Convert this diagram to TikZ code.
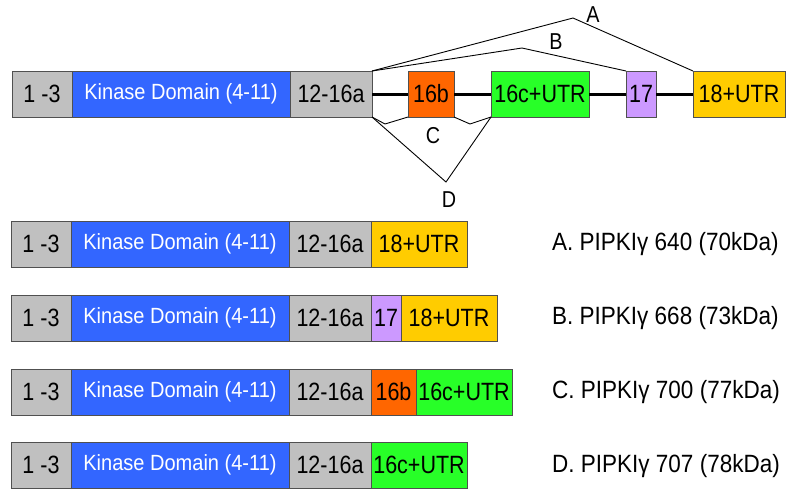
\documentclass[tikz,border=0pt]{standalone}
\usepackage{fontspec}
\setmainfont{Liberation Sans}
\newfontfamily\condfont[FakeStretch=0.86]{Liberation Sans}
\newfontfamily\kinfont[FakeStretch=0.91]{Liberation Sans}
\newfontfamily\isofont[FakeStretch=0.9]{Liberation Sans}
\definecolor{segGray}{RGB}{192,192,192}
\definecolor{segBlue}{RGB}{51,102,255}
\definecolor{segOrange}{RGB}{255,102,0}
\definecolor{segGreen}{RGB}{40,255,40}
\definecolor{segPurple}{RGB}{204,153,255}
\definecolor{segYellow}{RGB}{255,204,0}
\definecolor{segBorder}{RGB}{80,80,80}
\tikzset{
  seg/.style={draw=segBorder, line width=0.8pt, inner sep=0pt, outer sep=0pt,
    minimum height=46pt, anchor=north west, font=\condfont\fontsize{25}{27}\selectfont},
  gseg/.style={seg, fill=segGray},
  kseg/.style={seg, fill=segBlue, text=white, minimum width=218pt,
    font=\kinfont\fontsize{22}{24}\selectfont},
  intron/.style={line width=3pt, black},
  splice/.style={line width=0.9pt, black},
  lbl/.style={font=\condfont\fontsize{23}{25}\selectfont, inner sep=0pt},
  iso/.style={font=\isofont\fontsize{25}{27}\selectfont, inner sep=0pt, anchor=west}
}
\begin{document}
\begin{tikzpicture}[x=1pt,y=-1pt]
\useasboundingbox (0,0) rectangle (787,488);
% top gene structure
\node[gseg, minimum width=60pt] (t1) at (12,71) {1 -3};
\node[kseg] (t2) at (t1.north east) {Kinase Domain (4-11)};
\node[gseg, minimum width=82pt] (t3) at (t2.north east) {12-16a};
\node[seg, fill=segOrange, minimum width=46pt] (t4) at (408,71) {16b};
\node[seg, fill=segGreen, minimum width=98pt] (t5) at (491,71) {16c+UTR};
\node[seg, fill=segPurple, minimum width=30pt] (t6) at (626,71) {17};
\node[seg, fill=segYellow, minimum width=92pt] (t7) at (693,71) {18+UTR};
\draw[intron] (t3.east) -- (t4.west);
\draw[intron] (t4.east) -- (t5.west);
\draw[intron] (t5.east) -- (t6.west);
\draw[intron] (t6.east) -- (t7.west);
% splice paths
\coordinate (pA) at (573,18);
\coordinate (pB) at (522,48);
\coordinate (pC1) at (385,124);
\coordinate (pC2) at (470,124);
\coordinate (pD) at (446,182);
\draw[splice] (t3.north east) -- (pA) -- (t7.north west);
\draw[splice] (t3.north east) -- (pB) -- (t6.north west);
\draw[splice] (t3.south east) -- (pC1) -- (t4.south west);
\draw[splice] (t4.south east) -- (pC2) -- (t5.south west);
\draw[splice] (t3.south east) -- (pD) -- (t5.south west);
\node[lbl] (lA) at (593,15) {A};
\node[lbl] (lB) at (556,42) {B};
\node[lbl] (lC) at (433,136) {C};
\node[lbl] (lD) at (449,200) {D};
% isoform A
\node[gseg, minimum width=60pt] (a1) at (11,221) {1 -3};
\node[kseg] (a2) at (a1.north east) {Kinase Domain (4-11)};
\node[gseg, minimum width=82pt] (a3) at (a2.north east) {12-16a};
\node[seg, fill=segYellow, minimum width=96pt] (a4) at (a3.north east) {18+UTR};
\node[iso] (ia) at (552,244) {A. PIPKIγ 640 (70kDa)};
% isoform B
\node[gseg, minimum width=60pt] (b1) at (11,295) {1 -3};
\node[kseg] (b2) at (b1.north east) {Kinase Domain (4-11)};
\node[gseg, minimum width=82pt] (b3) at (b2.north east) {12-16a};
\node[seg, fill=segPurple, minimum width=30pt] (b4) at (b3.north east) {17};
\node[seg, fill=segYellow, minimum width=96pt] (b5) at (b4.north east) {18+UTR};
\node[iso] (ib) at (552,318) {B. PIPKIγ 668 (73kDa)};
% isoform C
\node[gseg, minimum width=60pt] (c1) at (11,369) {1 -3};
\node[kseg] (c2) at (c1.north east) {Kinase Domain (4-11)};
\node[gseg, minimum width=82pt] (c3) at (c2.north east) {12-16a};
\node[seg, fill=segOrange, minimum width=45pt] (c4) at (c3.north east) {16b};
\node[seg, fill=segGreen, minimum width=96pt] (c5) at (c4.north east) {16c+UTR};
\node[iso] (ic) at (552,392) {C. PIPKIγ 700 (77kDa)};
% isoform D
\node[gseg, minimum width=60pt] (d1) at (11,442) {1 -3};
\node[kseg] (d2) at (d1.north east) {Kinase Domain (4-11)};
\node[gseg, minimum width=82pt] (d3) at (d2.north east) {12-16a};
\node[seg, fill=segGreen, minimum width=96pt] (d4) at (d3.north east) {16c+UTR};
\node[iso] (id) at (552,466) {D. PIPKIγ 707 (78kDa)};
\end{tikzpicture}
\end{document}
